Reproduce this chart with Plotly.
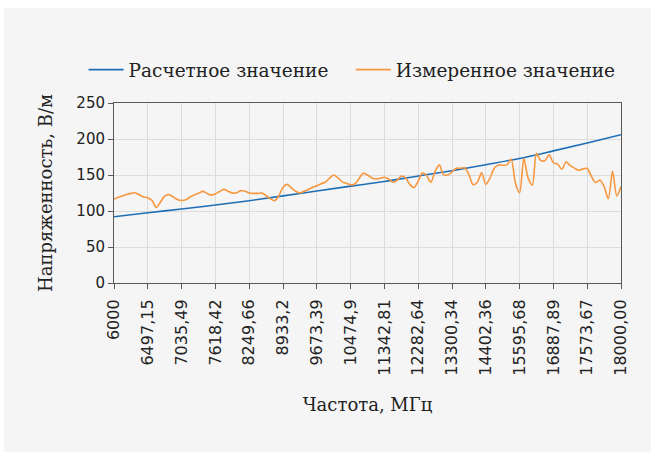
import plotly.graph_objects as go

# Tick labels (frequency, MHz) shown on the category axis
freq_labels = ["6000", "6497,15", "7035,49", "7618,42", "8249,66", "8933,2",
               "9673,39", "10474,9", "11342,81", "12282,64", "13300,34",
               "14402,36", "15595,68", "16887,89", "17573,67", "18000,00"]

# samples of the measured series between two labelled frequencies
samples_per_label = 8

# Calculated value at the labelled frequencies (V/m)
calc_values = [92, 97.5, 102.8, 108.3, 114.3, 121, 127.8, 134.5, 141, 148.6,
               156, 164.3, 173, 183.5, 194.5, 206]

meas_values = [
    116.5, 119, 121, 123, 124.5, 125.3, 122.5, 119.5, 118.5, 114.5,
    105, 112.5, 120.5, 122.8, 119.5, 116, 114.5, 115.5, 119.5, 122.3,
    124.6, 127.2, 124.5, 122, 123.8, 127, 130, 127.5, 125, 125.3,
    128.3, 127.5, 125, 124.5, 124.5, 124.8, 121.5, 117, 114.2, 121,
    133, 137, 132, 127.5, 125, 127.5, 130, 133, 135, 138,
    140, 145.5, 150, 146, 140.5, 138.5, 136.5, 137.5, 145, 152.5,
    150, 146.3, 144.5, 145.5, 146.8, 144.5, 140, 142.5, 148.5, 146,
    137, 132.5, 141.5, 153, 149, 140, 155, 164, 150.5, 150,
    154.5, 159.3, 159.3, 160, 150.5, 136.5, 140, 153, 137, 146,
    159.5, 164, 163.5, 164, 172, 139, 125.5, 173, 146, 136,
    180, 170, 170, 178, 167, 165, 158, 168, 163, 159.5,
    156.5, 158.5, 159, 148, 139.5, 143, 134, 117, 155, 121,
    134]

calc_x = [i * samples_per_label for i in range(len(calc_values))]
meas_x = list(range(len(meas_values)))
tick_x = [i * samples_per_label for i in range(len(freq_labels))]

BLUE = "#1f6fb6"
ORANGE = "#f7973f"
BG = "#f5f5f5"
SERIF = "DejaVu Serif"
SANS = "DejaVu Sans"

fig = go.Figure()
fig.add_trace(go.Scatter(x=calc_x, y=calc_values, mode="lines",
                         name="Расчетное значение", legend="legend",
                         line=dict(color=BLUE, width=1.6, shape="spline")))
fig.add_trace(go.Scatter(x=meas_x, y=meas_values, mode="lines",
                         name="Измеренное значение", legend="legend2",
                         line=dict(color=ORANGE, width=1.6, shape="spline", smoothing=0.8)))

fig.add_shape(type="rect", xref="paper", yref="paper",
              x0=-0.217, x1=1.059, y0=-0.939, y1=1.528,
              fillcolor=BG, line=dict(width=0), layer="below")

leg_common = dict(orientation="h", y=1.183, yanchor="middle", xanchor="left",
                  font=dict(family=SERIF, size=18.5, color="#222"),
                  bgcolor="rgba(0,0,0,0)", itemwidth=35)

fig.update_layout(
    width=655, height=457,
    margin=dict(l=114, r=34, t=103, b=174),
    paper_bgcolor="white", plot_bgcolor=BG,
    showlegend=True,
    legend=dict(x=-0.06, **leg_common),
    legend2=dict(x=0.467, **leg_common),
    xaxis=dict(range=[0, tick_x[-1]], tickmode="array", tickvals=tick_x,
               ticktext=freq_labels, tickangle=-90,
               tickfont=dict(family=SANS, size=16, color="#222"),
               ticklabelstandoff=4,
               showgrid=True, gridcolor="#dcdcdc", gridwidth=1,
               showline=True, linecolor="#595959", linewidth=1, mirror=True,
               ticks="outside", ticklen=5, tickcolor="#595959",
               zeroline=False,
               title=dict(text="Частота, МГц", font=dict(family=SERIF, size=18, color="#222"),
                          standoff=23)),
    yaxis=dict(range=[0, 250], tickmode="array", tickvals=[0, 50, 100, 150, 200, 250],
               tickfont=dict(family=SANS, size=15, color="#222"),
               showgrid=True, gridcolor="#dcdcdc", gridwidth=1,
               showline=True, linecolor="#595959", linewidth=1, mirror=True,
               ticks="outside", ticklen=5, tickcolor="#595959",
               zeroline=False,
               title=dict(text="Напряженность, В/м", font=dict(family=SERIF, size=18, color="#222"),
                          standoff=19)),
)

fig.write_html("out.html", config={"displayModeBar": False},
               post_script="document.body.style.margin='0';")
